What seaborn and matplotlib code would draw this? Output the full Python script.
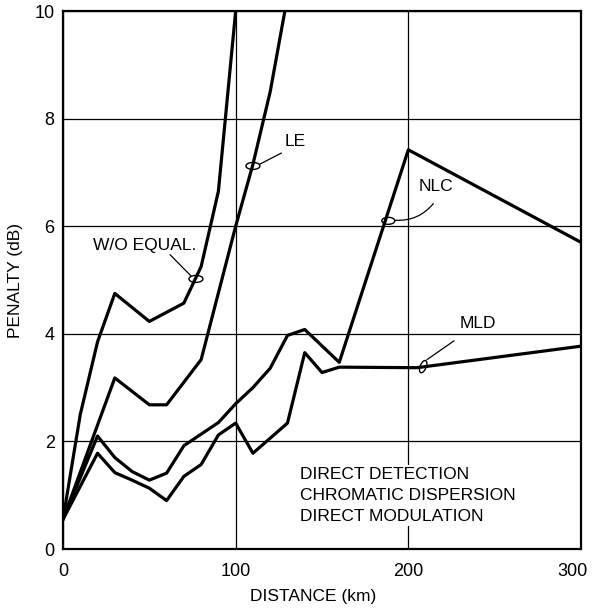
import pandas as pd
import seaborn as sns
import matplotlib
matplotlib.use("Agg")
import matplotlib.pyplot as plt
from matplotlib.patches import Ellipse
from matplotlib.transforms import ScaledTranslation

# values
dist_wo = [0, 10, 20, 30, 50, 70, 80, 90, 100]
pen_wo = [0.55, 2.5, 3.85, 4.75, 4.23, 4.57, 5.25, 6.65, 10.0]

dist_le = [0, 30, 50, 60, 80, 100, 110, 120, 128.5]
pen_le = [0.55, 3.18, 2.68, 2.68, 3.52, 6.0, 7.15, 8.5, 10.0]

dist_nlc = [0, 20, 30, 40, 50, 60, 70, 90, 100, 110, 120, 130, 140, 160, 200, 300]
pen_nlc = [0.55, 2.1, 1.7, 1.44, 1.28, 1.41, 1.92, 2.35, 2.7, 3.0, 3.36, 3.97, 4.08, 3.47, 7.42, 5.7]

dist_mld = [0, 20, 30, 40, 50, 60, 70, 80, 90, 100, 110, 130, 140, 150, 160, 205, 300]
pen_mld = [0.55, 1.78, 1.42, 1.28, 1.13, 0.9, 1.35, 1.57, 2.12, 2.34, 1.78, 2.34, 3.65, 3.28, 3.38, 3.37, 3.77]

x_ticks = [0, 100, 200, 300]
y_ticks = [0, 2, 4, 6, 8, 10]
box_lines = ["DIRECT DETECTION", "CHROMATIC DISPERSION", "DIRECT MODULATION"]

df = pd.concat([
    pd.DataFrame({"distance": dist_wo, "penalty": pen_wo, "curve": "W/O EQUAL."}),
    pd.DataFrame({"distance": dist_le, "penalty": pen_le, "curve": "LE"}),
    pd.DataFrame({"distance": dist_nlc, "penalty": pen_nlc, "curve": "NLC"}),
    pd.DataFrame({"distance": dist_mld, "penalty": pen_mld, "curve": "MLD"}),
], ignore_index=True)

sns.set_style("white")
plt.rcParams["font.family"] = ["Liberation Sans", "DejaVu Sans"]
plt.rcParams["text.color"] = "black"
plt.rcParams["axes.labelcolor"] = "black"

fig = plt.figure(figsize=(5.92, 6.08), dpi=100)
ax = fig.add_axes([63 / 592, 59 / 608, 518 / 592, 538 / 608])

sns.lineplot(data=df, x="distance", y="penalty", units="curve", estimator=None,
             sort=False, color="black", lw=2.3, ax=ax, legend=False)

ax.set_xlim(0, 300)
ax.set_ylim(0, 10)
ax.set_xticks(x_ticks)
ax.set_yticks(y_ticks)
ax.grid(True, color="black", lw=0.9)
ax.set_axisbelow(True)
ax.tick_params(axis="both", length=0, labelsize=13, colors="black")
ax.tick_params(axis="x", pad=10)
ax.tick_params(axis="y", pad=6)
# last x label sits a little inside the frame, as in the original
last = ax.get_xticklabels()[-1]
last.set_transform(last.get_transform() + ScaledTranslation(-0.09, 0, fig.dpi_scale_trans))
for s in ax.spines.values():
    s.set_visible(True)
    s.set_color("black")
    s.set_linewidth(1.6)

ax.set_xlabel("DISTANCE (km)", fontsize=12.5)
ax.set_ylabel("PENALTY (dB)", fontsize=12.5, labelpad=8)
ax.xaxis.set_label_coords(0.483, -0.074)


def ring(x, y, w, h, angle=0):
    tr = fig.dpi_scale_trans + ScaledTranslation(x, y, ax.transData)
    ax.add_patch(Ellipse((0, 0), w / 100, h / 100, angle=angle, transform=tr,
                         fill=False, lw=1.0, ec="black", zorder=5, clip_on=False))


# curve labels with leaders
ax.text(47.5, 5.65, "W/O EQUAL.", fontsize=12.5, ha="center", va="center")
ring(77.0, 5.02, 14, 7)
ax.plot([62, 74], [5.47, 5.08], color="black", lw=0.9)

ax.text(128.5, 7.57, "LE", fontsize=12.5, ha="left", va="center")
ring(110.0, 7.12, 14, 7)
ax.plot([113.8, 126.5], [7.15, 7.36], color="black", lw=0.9)

ax.text(216, 6.73, "NLC", fontsize=12.5, ha="center", va="center")
ring(188.4, 6.1, 13, 7)
ax.annotate("", xy=(192.5, 6.11), xytext=(214.5, 6.42),
            arrowprops=dict(arrowstyle="-", lw=0.9, color="black",
                            connectionstyle="arc3,rad=-0.25", shrinkA=0, shrinkB=0))

ax.text(240.5, 4.19, "MLD", fontsize=12.5, ha="center", va="center")
ring(208.6, 3.39, 6, 13, angle=-22)
ax.plot([210.8, 226.5], [3.52, 3.87], color="black", lw=0.9)

ax.text(137.5, 1.0, "\n".join(box_lines), fontsize=12.5, ha="left", va="center",
        linespacing=1.5, zorder=6,
        bbox=dict(facecolor="white", edgecolor="none", pad=1.5))

fig.savefig("out.png", dpi=100)
